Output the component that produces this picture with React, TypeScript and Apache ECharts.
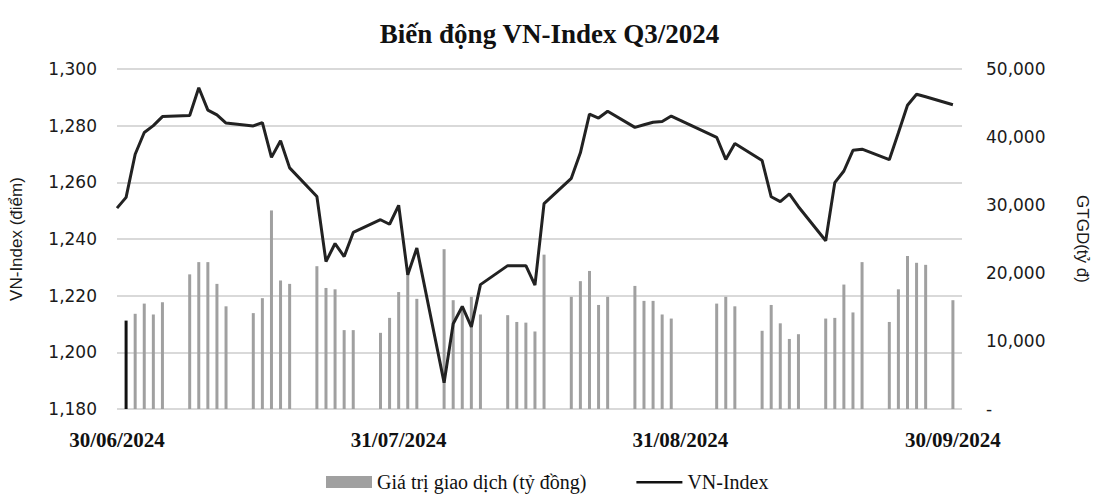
import React, { useEffect, useRef } from 'react';
import * as echarts from 'echarts';

// Trading days (dd/mm, year 2024)
const tradingDates = [
  '01/07', '02/07', '03/07', '04/07', '05/07',
  '08/07', '09/07', '10/07', '11/07', '12/07',
  '15/07', '16/07', '17/07', '18/07', '19/07',
  '22/07', '23/07', '24/07', '25/07', '26/07',
  '29/07', '30/07', '31/07', '01/08', '02/08',
  '05/08', '06/08', '07/08', '08/08', '09/08',
  '12/08', '13/08', '14/08', '15/08', '16/08',
  '19/08', '20/08', '21/08', '22/08', '23/08',
  '26/08', '27/08', '28/08', '29/08', '30/08',
  '04/09', '05/09', '06/09',
  '09/09', '10/09', '11/09', '12/09', '13/09',
  '16/09', '17/09', '18/09', '19/09', '20/09',
  '23/09', '24/09', '25/09', '26/09', '27/09',
  '30/09',
];

// VN-Index close (points); first point is the 30/06 start value
const indexDates = ['30/06', ...tradingDates];
const indexValues = [
  1250.9,
  1254.7, 1269.9, 1277.6, 1280.0, 1283.2,
  1283.6, 1293.4, 1285.5, 1283.8, 1280.9,
  1279.9, 1281.1, 1268.8, 1274.7, 1265.1,
  1255.0, 1232.0, 1238.4, 1233.8, 1242.3,
  1246.8, 1245.2, 1251.9, 1227.4, 1236.8,
  1189.3, 1210.1, 1216.2, 1209.0, 1223.9,
  1230.6, 1230.6, 1230.6, 1223.7, 1252.5,
  1261.4, 1270.4, 1284.1, 1282.7, 1285.1,
  1279.4, 1280.3, 1281.2, 1281.5, 1283.4,
  1275.9, 1268.1, 1273.7,
  1267.7, 1254.9, 1253.2, 1255.9, 1251.4,
  1239.4, 1259.9, 1264.0, 1271.3, 1271.7,
  1268.0, 1277.5, 1287.2, 1291.1, 1290.2,
  1287.4,
];

// Trading value (tỷ đồng)
const turnoverValues = [
  13000, 14000, 15500, 13900, 15700,
  19800, 21600, 21600, 18400, 15100,
  14100, 16300, 29200, 18900, 18400,
  21000, 17800, 17600, 11600, 11600,
  11200, 13400, 17200, 19900, 16200,
  23500, 16000, 14800, 16500, 13900,
  13800, 12800, 12700, 11400, 22700,
  16500, 18800, 20300, 15300, 16500,
  18100, 15900, 15900, 13900, 13300,
  15500, 16500, 15100,
  11500, 15300, 12600, 10300, 11000,
  13300, 13400, 18300, 14200, 21600,
  12800, 17600, 22500, 21500, 21200,
  16000,
];

const darkBarDate = '01/07';
const tickLabels = ['30/06/2024', '31/07/2024', '31/08/2024', '30/09/2024'];
const axisStart = '2024-06-30';
const axisEnd = '2024-10-01';

const barName = 'Giá trị giao dịch (tỷ đồng)';
const lineName = 'VN-Index';

function buildCalendar(): string[] {
  const out: string[] = [];
  const d = new Date(axisStart + 'T00:00:00Z');
  const end = new Date(axisEnd + 'T00:00:00Z');
  while (d.getTime() <= end.getTime()) {
    const dd = String(d.getUTCDate()).padStart(2, '0');
    const mm = String(d.getUTCMonth() + 1).padStart(2, '0');
    out.push(`${dd}/${mm}/${d.getUTCFullYear()}`);
    d.setUTCDate(d.getUTCDate() + 1);
  }
  return out;
}

export default function App() {
  const ref = useRef<HTMLDivElement>(null);

  useEffect(() => {
    document.body.style.margin = '0';
    if (!ref.current) return;
    const chart = echarts.init(ref.current, undefined, { renderer: 'svg' });

    const calendar = buildCalendar();
    const lineMap: Record<string, number> = {};
    indexDates.forEach((d, i) => { lineMap[d + '/2024'] = indexValues[i]; });
    const barMap: Record<string, number> = {};
    tradingDates.forEach((d, i) => { barMap[d + '/2024'] = turnoverValues[i]; });

    const lineData = calendar.map((c) => (c in lineMap ? lineMap[c] : null));
    const barData = calendar.map((c) => {
      if (!(c in barMap)) return null;
      if (c === darkBarDate + '/2024') {
        return { value: barMap[c], itemStyle: { color: '#111111' } };
      }
      return barMap[c];
    });

    const tickFont = { fontFamily: 'DejaVu Sans', fontSize: 17, color: '#1a1a1a' };

    chart.setOption({
      animation: false,
      backgroundColor: '#ffffff',
      title: {
        text: 'Biến động VN-Index Q3/2024',
        left: 'center',
        top: 15,
        textStyle: { fontFamily: 'Liberation Serif', fontWeight: 'bold', fontSize: 27, color: '#111111' },
      },
      legend: {
        left: 321,
        top: 467,
        itemWidth: 46,
        itemHeight: 12,
        itemGap: 50,
        textStyle: { fontFamily: 'Liberation Serif', fontSize: 20, color: '#111111' },
        data: [
          { name: barName, icon: 'rect' },
          {
            name: lineName,
            icon: 'path://M0,0L0,0M0,5L46,5L46,7.4L0,7.4ZM46,12L46,12',
            itemStyle: { color: '#111111' },
          },
        ],
      },
      grid: { left: 112, right: 125, top: 69, bottom: 88 },
      xAxis: {
        type: 'category',
        data: calendar,
        boundaryGap: false,
        axisLine: { show: false },
        axisTick: { show: false },
        axisLabel: {
          interval: (_i: number, v: string) => tickLabels.includes(v),
          margin: 20,
          fontFamily: 'Liberation Serif',
          fontWeight: 'bold',
          fontSize: 21,
          color: '#111111',
        },
        splitLine: { show: false },
      },
      yAxis: [
        {
          type: 'value',
          min: 1180,
          max: 1300,
          interval: 20,
          name: 'VN-Index (điểm)',
          nameLocation: 'middle',
          nameGap: 92,
          nameTextStyle: { fontFamily: 'Liberation Sans', fontSize: 17, color: '#1a1a1a' },
          axisLine: { show: false },
          axisTick: { show: false },
          axisLabel: { ...tickFont, margin: 20, formatter: (v: number) => v.toLocaleString('en-US') },
          splitLine: { lineStyle: { color: '#cccccc', width: 1.5 } },
        },
        {
          type: 'value',
          min: 0,
          max: 50000,
          interval: 10000,
          position: 'right',
          name: 'GTGD(tỷ đ)',
          nameLocation: 'middle',
          nameRotate: -90,
          nameGap: 112,
          nameTextStyle: { fontFamily: 'Liberation Sans', fontSize: 17, color: '#1a1a1a' },
          axisLine: { show: false },
          axisTick: { show: false },
          axisLabel: {
            ...tickFont,
            margin: 24,
            formatter: (v: number) => (v === 0 ? '-' : v.toLocaleString('en-US')),
          },
          splitLine: { show: false },
        },
      ],
      series: [
        {
          type: 'bar',
          name: barName,
          yAxisIndex: 1,
          data: barData,
          barWidth: 3,
          itemStyle: { color: '#a0a0a0' },
        },
        {
          type: 'line',
          name: lineName,
          yAxisIndex: 0,
          data: lineData,
          connectNulls: true,
          symbol: 'none',
          lineStyle: { color: '#222222', width: 3 },
          itemStyle: { color: '#222222' },
        },
      ],
    });

    return () => chart.dispose();
  }, []);

  return <div ref={ref} style={{ width: 1099, height: 497 }} />;
}
